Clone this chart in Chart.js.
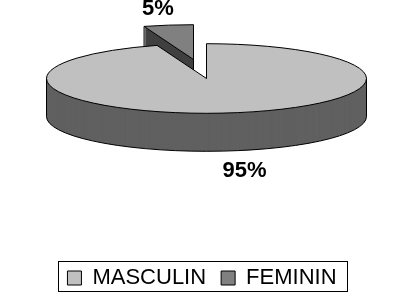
<!DOCTYPE html>
<html><head><meta charset="utf-8">
<script src="https://cdn.jsdelivr.net/npm/chart.js@4"></script>
<style>html,body{margin:0;padding:0;background:#fff;}#wrap{width:404px;height:293px;}</style>
</head><body><div id="wrap"><canvas id="c" width="404" height="293"></canvas></div>
<script>
// ---- data ----
const categories = ['MASCULIN', 'FEMININ'];
const values = [95, 5];
const topColors = ['#c0c0c0', '#808080'];
const sideColors = ['#606060', '#404040'];

// ---- presentation ----
const VIEW = {cx: 206.5, cy: 78.5, rx: 160, ry: 34.8, depth: 38};
const EXPLODE = [{dx: 0, dy: 0}, {dx: -13, dy: -19}];
const LABEL_POS = [{x: 244.5, y: 177}, {x: 158, y: 14.5}];
const FONT = '"Liberation Sans", Arial, sans-serif';

function viewTransform(ctx, el, dx, dy) {
  const sx = VIEW.rx / el.outerRadius, sy = VIEW.ry / el.outerRadius;
  ctx.setTransform(sx, 0, 0, sy, VIEW.cx + dx - el.x * sx, VIEW.cy + dy - el.y * sy);
}
function fillArc(ctx, el, color, dx, dy) {
  const o = el.options;
  const w = Object.create(o);
  Object.defineProperty(w, 'backgroundColor', {value: color});
  Object.defineProperty(w, 'borderWidth', {value: 0});
  ctx.save();
  viewTransform(ctx, el, dx, dy);
  el.options = w;
  el.draw(ctx);
  el.options = o;
  ctx.restore();
}
function pt(el, a, dx, dy, down) {
  return {x: VIEW.cx + dx + Math.cos(a) * VIEW.rx, y: VIEW.cy + dy + Math.sin(a) * VIEW.ry + (down || 0)};
}
function strokeOutlines(ctx, el, dx, dy) {
  const D = VIEW.depth;
  ctx.save();
  ctx.strokeStyle = '#000';
  ctx.lineWidth = 1;
  // top face outline
  ctx.save();
  viewTransform(ctx, el, dx, dy);
  ctx.beginPath();
  ctx.moveTo(el.x, el.y);
  ctx.arc(el.x, el.y, el.outerRadius, el.startAngle, el.endAngle);
  ctx.closePath();
  ctx.restore();
  ctx.stroke();
  // curved side (front half: angles 0..PI)
  const TAU = Math.PI * 2;
  let s = el.startAngle, e = el.endAngle;
  for (let k = -1; k <= 1; k++) {
    const a0 = Math.max(s + k * TAU, 0), a1 = Math.min(e + k * TAU, Math.PI);
    if (a1 > a0) {
      ctx.save();
      viewTransform(ctx, el, dx, dy + D);
      ctx.beginPath();
      ctx.arc(el.x, el.y, el.outerRadius, a0, a1);
      ctx.restore();
      ctx.stroke();
      [a0, a1].forEach(a => {
        const p = pt(el, a, dx, dy, 0);
        ctx.beginPath(); ctx.moveTo(p.x, p.y); ctx.lineTo(p.x, p.y + D); ctx.stroke();
      });
    }
  }
  // radial faces facing the viewer
  const c = {x: VIEW.cx + dx, y: VIEW.cy + dy};
  const faces = [];
  if (Math.cos(s) < -1e-6) faces.push(s);
  if (Math.cos(e) > 1e-6 && false) faces.push(e);
  faces.forEach(a => {
    const p = pt(el, a, dx, dy, 0);
    ctx.beginPath();
    ctx.moveTo(c.x, c.y); ctx.lineTo(c.x, c.y + D);
    ctx.lineTo(p.x, p.y + D); ctx.lineTo(p.x, p.y);
    ctx.stroke();
  });
  ctx.restore();
}

const pie3d = {
  id: 'pie3d',
  beforeDatasetsDraw(chart) {
    const ctx = chart.ctx;
    const meta = chart.getDatasetMeta(0);
    const order = [1, 0];
    order.forEach(i => {
      const el = meta.data[i];
      const {dx, dy} = EXPLODE[i];
      for (let s = VIEW.depth; s >= 1; s--) fillArc(ctx, el, sideColors[i], dx, dy + s);
      fillArc(ctx, el, topColors[i], dx, dy);
      strokeOutlines(ctx, el, dx, dy);
    });
    // percentage labels
    const total = values.reduce((a, b) => a + b, 0);
    ctx.save();
    ctx.fillStyle = '#000';
    ctx.font = 'bold 22px ' + FONT;
    ctx.textAlign = 'center';
    ctx.textBaseline = 'alphabetic';
    values.forEach((v, i) => {
      ctx.fillText(Math.round(v / total * 100) + '%', LABEL_POS[i].x, LABEL_POS[i].y);
    });
    ctx.restore();
    return false;
  },
  afterDraw(chart) {
    const hb = chart.legend.legendHitBoxes;
    if (!hb || !hb.length) return;
    const ctx = chart.ctx;
    const first = hb[0], last = hb[hb.length - 1];
    const left = Math.round(first.left - 9.5) + 0.5;
    const right = Math.round(last.left + last.width + 10.5) + 0.5;
    const cy = first.top + first.height / 2;
    const top = Math.round(cy - 17) + 0.5;
    ctx.save();
    ctx.strokeStyle = '#000';
    ctx.lineWidth = 1;
    ctx.strokeRect(left, top, right - left, 30);
    ctx.restore();
  }
};

new Chart(document.getElementById('c'), {
  type: 'pie',
  data: {
    labels: categories,
    datasets: [{
      data: values,
      backgroundColor: topColors,
      borderColor: '#000',
      borderWidth: 1
    }]
  },
  options: {
    responsive: false,
    animation: false,
    devicePixelRatio: 1,
    layout: {padding: {bottom: -6}},
    plugins: {
      tooltip: {enabled: false},
      legend: {
        position: 'bottom',
        labels: {
          color: '#000',
          font: {family: FONT, size: 22},
          boxWidth: 14,
          boxHeight: 14,
          padding: 15
        }
      }
    }
  },
  plugins: [pie3d]
});
</script>
</body></html>
